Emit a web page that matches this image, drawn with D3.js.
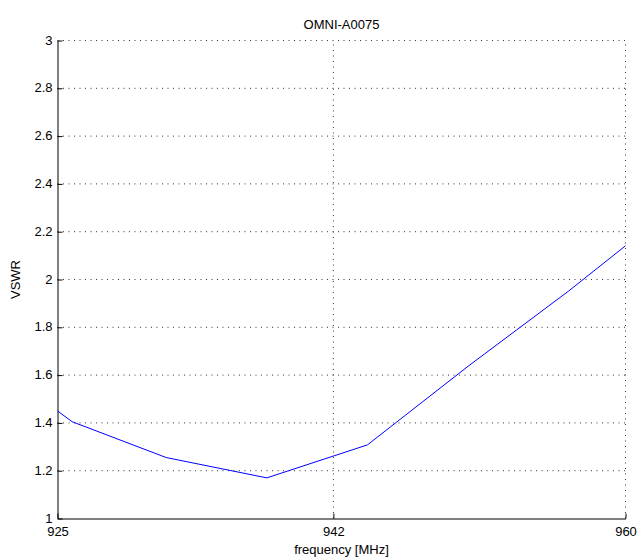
<!DOCTYPE html>
<html>
<head>
<meta charset="utf-8">
<script src="https://cdn.jsdelivr.net/npm/d3@7"></script>
<style>
  html, body { margin: 0; padding: 0; background: #fff; }
  svg { display: block; }
  text { font-family: "Liberation Sans", Arial, Helvetica, sans-serif; fill: #000; }
</style>
</head>
<body>
<svg id="chart" width="638" height="557"></svg>
<script>
// ---- data ----
const frequency = [925, 925.9, 931.7, 937.9, 944.1, 950.3, 956.5, 960];
const vswr      = [1.45, 1.405, 1.255, 1.17, 1.308, 1.637, 1.952, 2.141];
const xTicks = [925, 942, 960];
const yTicks = [1, 1.2, 1.4, 1.6, 1.8, 2, 2.2, 2.4, 2.6, 2.8, 3];
const titleText = "OMNI-A0075";
const xLabel = "frequency [MHz]";
const yLabel = "VSWR";

// ---- layout ----
const W = 638, H = 557;
const m = { left: 57.5, top: 40.5, right: 13, bottom: 38 };
const iw = 625.5 - m.left, ih = 518.5 - m.top;

const svg = d3.select("#chart");
const g = svg.append("g").attr("transform", `translate(${m.left},${m.top})`);

const x = d3.scaleLinear().domain([925, 960]).range([0, iw]);
const y = d3.scaleLinear().domain([1, 3]).range([ih, 0]);

// grid (dotted)
const grid = g.append("g").attr("stroke", "#333").attr("stroke-width", 1)
  .attr("stroke-dasharray", "1,4.5").attr("fill", "none");
grid.selectAll("line.h").data(yTicks.filter(d => d > 1)).join("line")
  .attr("class", "h").attr("x1", 0).attr("x2", iw)
  .attr("y1", d => y(d)).attr("y2", d => y(d));
grid.selectAll("line.v").data(xTicks.filter(d => d > 925)).join("line")
  .attr("class", "v").attr("y1", ih).attr("y2", 0)
  .attr("x1", d => x(d)).attr("x2", d => x(d));

// axes (inward ticks)
const xAxis = d3.axisBottom(x).tickValues(xTicks).tickSizeInner(-5).tickSizeOuter(0)
  .tickPadding(8).tickFormat(d3.format("d"));
const yAxis = d3.axisLeft(y).tickValues(yTicks).tickSizeInner(-5).tickSizeOuter(0)
  .tickPadding(5).tickFormat(d => d3.format("")(+d.toFixed(1)));

const gx = g.append("g").attr("transform", `translate(0,${ih})`).call(xAxis);
const gy = g.append("g").call(yAxis);
[gx, gy].forEach(a => {
  a.select(".domain").attr("stroke", "#000");
  a.selectAll(".tick line").attr("stroke", "#000");
  a.selectAll(".tick text").attr("font-size", 13).attr("fill", "#000")
    .attr("font-family", "Liberation Sans, Arial, sans-serif");
});
gx.selectAll(".tick text").attr("dy", "0.71em");
gy.selectAll(".tick text").attr("dy", "0.28em");

// line
const line = d3.line().x((d, i) => x(frequency[i])).y(d => y(d));
g.append("path").datum(vswr).attr("d", line)
  .attr("fill", "none").attr("stroke", "#0000ff").attr("stroke-width", 1);

// title and labels
svg.append("text").attr("x", m.left + iw / 2).attr("y", 29)
  .attr("text-anchor", "middle").attr("font-size", 13).text(titleText);
svg.append("text").attr("x", m.left + iw / 2).attr("y", 554)
  .attr("text-anchor", "middle").attr("font-size", 13).text(xLabel);
svg.append("text").attr("transform", `translate(20,${m.top + ih / 2}) rotate(-90)`)
  .attr("text-anchor", "middle").attr("font-size", 13).text(yLabel);
</script>
</body>
</html>
